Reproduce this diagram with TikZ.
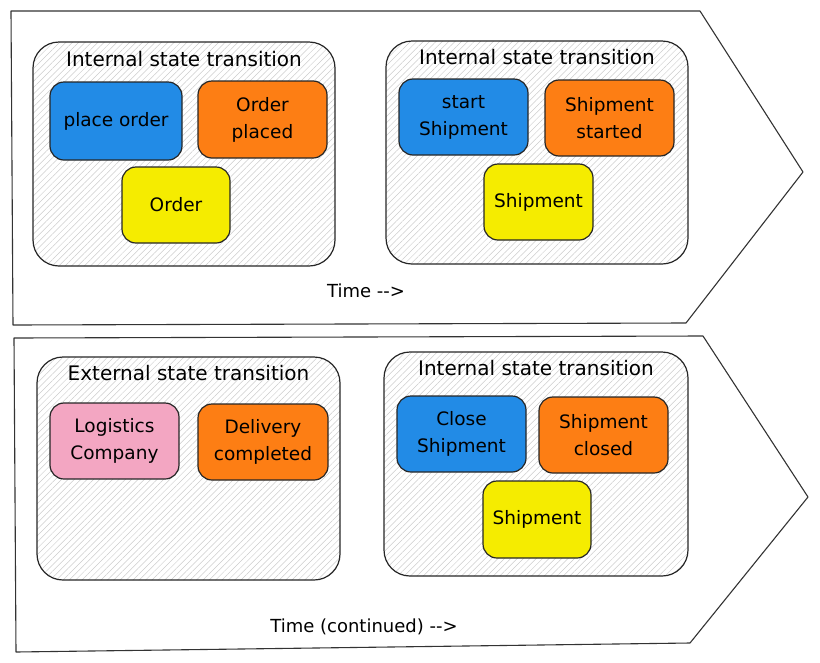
\documentclass[tikz,border=0pt]{standalone}
\usepackage{fontspec}
\setmainfont{DejaVu Sans}
\usetikzlibrary{patterns.meta}
\usetikzlibrary{positioning}
\definecolor{cmdblue}{HTML}{228BE6}
\definecolor{evtorange}{HTML}{FD7E14}
\definecolor{aggyellow}{RGB}{245,236,0}
\definecolor{extpink}{RGB}{243,166,194}
\tikzset{
  phase/.style={draw=black!80, line width=1.1pt, line join=round},
  container/.style={draw=black!85, line width=1.2pt, rounded corners=26pt,
    pattern={Lines[angle=45, distance=4.5pt, line width=0.5pt]}, pattern color=black!20, inner sep=0pt},
  card/.style={draw=black!85, line width=1.2pt, rounded corners=14pt, inner sep=0pt,
    align=center, font=\fontsize{18.5}{27}\selectfont},
  heading/.style={inner sep=0pt, font=\fontsize{20}{24}\selectfont},
  timelabel/.style={inner sep=0pt, font=\fontsize{18}{22}\selectfont},
}

\begin{document}
\begin{tikzpicture}[x=1pt, y=-1pt]
    \useasboundingbox (0,0) rectangle (820,662);
    \draw[phase] (11,11) -- (700,11) -- (803,172) -- (686,323) -- (13,325) -- cycle;
    \draw[phase] (14,338) -- (703,336) -- (808,497) -- (690,643) -- (16,652) -- cycle;

    \node[container, minimum width=302pt, minimum height=224pt] (orderbox) at (184,154) {};
    \node[heading, below=9pt of orderbox.north] (ordertitle) {Internal state transition};
    \node[card, fill=cmdblue, minimum width=132pt, minimum height=78pt] (placeorder) at (116,121) {place order};
    \node[card, fill=evtorange, minimum width=129pt, minimum height=77pt] (orderplaced) at (262.5,119.5) {Order\\placed};
    \node[card, fill=aggyellow, minimum width=108pt, minimum height=76pt] (order) at (176,205) {Order};

    \node[container, minimum width=302pt, minimum height=223pt] (startbox) at (537,152.5) {};
    \node[heading, below=9pt of startbox.north] (starttitle) {Internal state transition};
    \node[card, fill=cmdblue, minimum width=129pt, minimum height=76pt] (startship) at (463.5,117) {start\\Shipment};
    \node[card, fill=evtorange, minimum width=129pt, minimum height=76pt] (shipstarted) at (609.5,118) {Shipment\\started};
    \node[card, fill=aggyellow, minimum width=109pt, minimum height=76pt] (shipmentA) at (538.5,202) {Shipment};

    \node[timelabel] (time) at (366,291) {Time -{}->};

    \node[container, minimum width=303pt, minimum height=223pt] (deliverbox) at (188.5,468.5) {};
    \node[heading, below=9pt of deliverbox.north] (delivertitle) {External state transition};
    \node[card, fill=extpink, minimum width=129pt, minimum height=76pt] (logistics) at (114.5,441) {Logistics\\Company};
    \node[card, fill=evtorange, minimum width=130pt, minimum height=76pt] (delivered) at (263,442) {Delivery\\completed};

    \node[container, minimum width=304pt, minimum height=224pt] (closebox) at (536,464) {};
    \node[heading, below=9pt of closebox.north] (closetitle) {Internal state transition};
    \node[card, fill=cmdblue, minimum width=129pt, minimum height=76pt] (closeship) at (461.5,434) {Close\\Shipment};
    \node[card, fill=evtorange, minimum width=129pt, minimum height=76pt] (shipclosed) at (603.5,435) {Shipment\\closed};
    \node[card, fill=aggyellow, minimum width=108pt, minimum height=77pt] (shipmentB) at (537,519.5) {Shipment};

    \node[timelabel] (timecont) at (364,627) {Time (continued) -{}->};
\end{tikzpicture}
\end{document}
